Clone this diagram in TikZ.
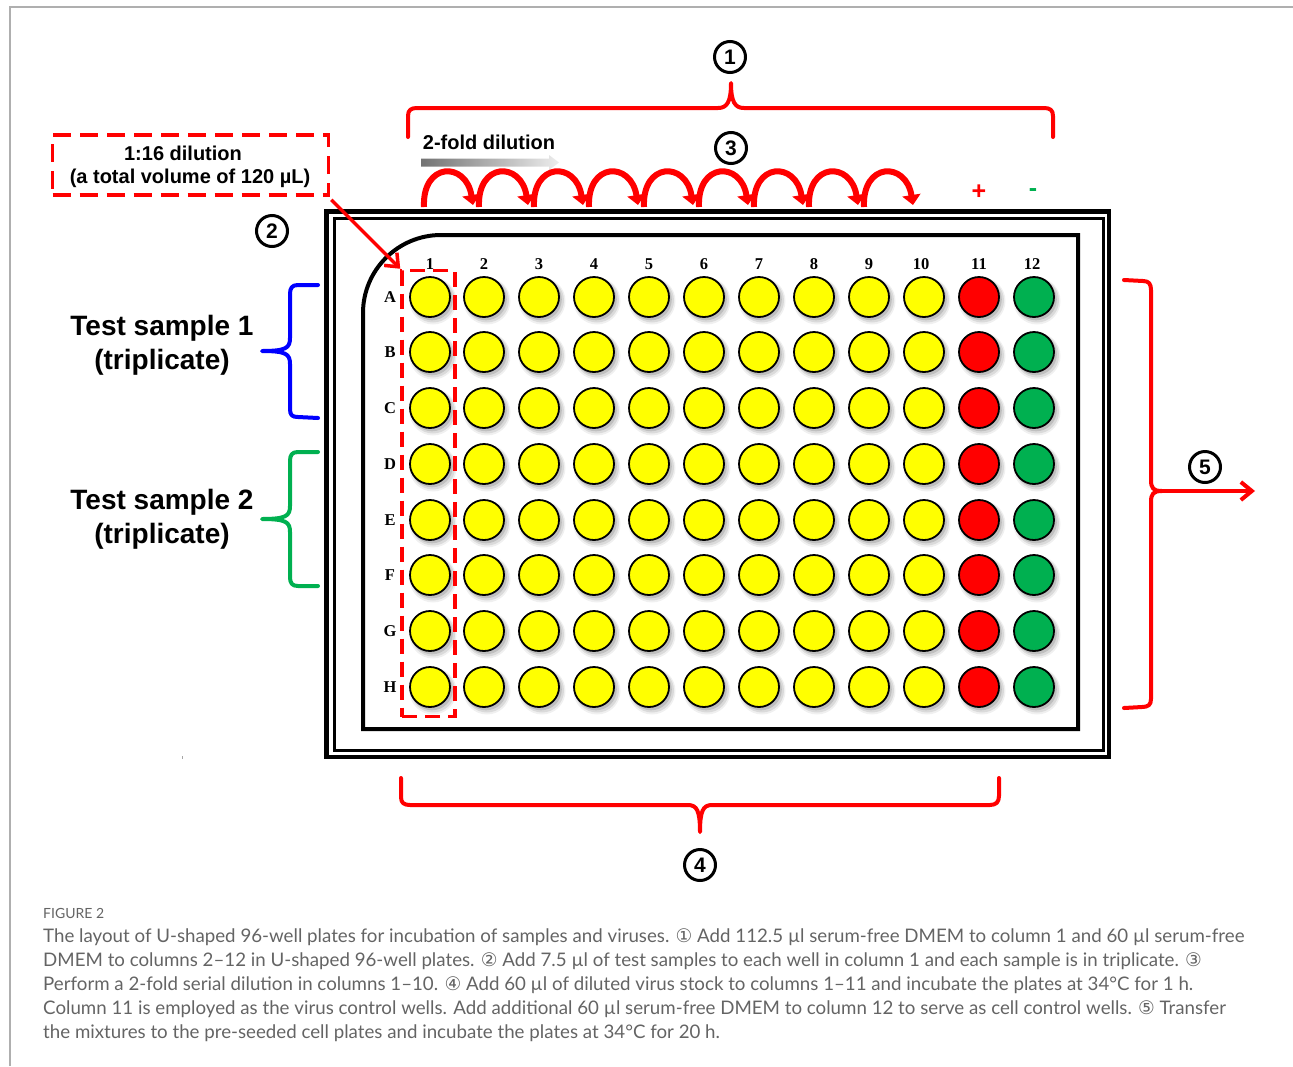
\documentclass[tikz,border=0pt]{standalone}
\usepackage{fontspec}
\setmainfont{Liberation Sans}
\newfontfamily\platefont{Liberation Serif}
\newfontfamily\capfont{Lato}
\newfontfamily\symfont{DejaVu Sans}
\usetikzlibrary{arrows.meta}
\definecolor{wellyellow}{RGB}{255,255,0}
\definecolor{wellred}{RGB}{255,0,0}
\definecolor{wellgreen}{RGB}{0,176,80}
\definecolor{braceblue}{RGB}{0,0,255}
\definecolor{bracegreen}{RGB}{0,176,80}
\definecolor{framegray}{RGB}{175,175,175}
\definecolor{captext}{RGB}{100,100,100}
\begin{document}
\begin{tikzpicture}[x=1pt,y=-1pt,
  well/.style={circle,draw=black,line width=1.8,minimum size=40,inner sep=0},
  brace/.style={line width=4,line cap=round,line join=round},
  stepnum/.style={circle,draw=black,line width=3,inner sep=0,minimum size=31,
    font=\bfseries\fontsize{21}{21}\selectfont},
  lbl/.style={font=\bfseries\fontsize{28}{30}\selectfont,inner sep=0},
  calltxt/.style={font=\bfseries\fontsize{20}{20}\selectfont,inner sep=0},
  plate/.style={font=\platefont\bfseries\fontsize{16.5}{16.5}\selectfont,inner sep=0},
  capline/.style={anchor=west,inner sep=0,text=captext,font=\capfont\fontsize{18.7}{18.7}\selectfont},
  dil/.style={draw=red,line width=6,-{Triangle[length=10pt,width=18pt]}},
  barb/.style={draw=red,line width=3.5,-{Straight Barb[length=11pt,width=18pt]}},
]
\useasboundingbox (0,0) rectangle (1293,1066);

% page frame
\draw[framegray,line width=1.5] (10,1066) -- (10,7) -- (1293,7);

% plate: double outer frame and inner well area
\draw[line width=4.5] (326.5,211.5) rectangle (1109,757);
\draw[line width=3] (334,218) rectangle (1103,750);
\draw[line width=4] (363,729) -- (363,313) .. controls (363,270) and (398,235) .. (441,235)
  -- (1078,235) -- (1078,729) -- cycle;

% column numbers
\foreach \x [count=\c] in {430,484,539,594,649,704,759,814,869,921,979,1032}
  \node[plate] (col\c) at (\x,264) {\c};

% rows of wells with soft shadows
\foreach \y/\rw in {297/A,352/B,408/C,464/D,520/E,575/F,631/G,687/H}{
  \node[plate] (row\rw) at (390,\y) {\rw};
  \foreach \x [count=\c] in {430,484,539,594,649,704,759,814,869,924,979,1034}{
    \fill[black,opacity=0.06] (\x+3,\y+4) circle (23.5);
    \fill[black,opacity=0.09] (\x+3,\y+3.5) circle (22);
    \fill[black,opacity=0.12] (\x+2,\y+2.5) circle (20.8);
  }
  \foreach \x [count=\c] in {430,484,539,594,649,704,759,814,869,924}
    \node[well,fill=wellyellow] (w\rw\c) at (\x,\y) {};
  \node[well,fill=wellred] (w\rw11) at (979,\y) {};
  \node[well,fill=wellgreen] (w\rw12) at (1034,\y) {};
}

% column 1 highlight and its callout
\node[draw=red,line width=3.5,dash pattern=on 15pt off 8pt,minimum width=53,
  minimum height=446,inner sep=0] (colbox) at (428.5,493.5) {};
\node[draw=red,line width=3.5,dash pattern=on 18pt off 9pt,minimum width=276,
  minimum height=60,inner sep=0] (callout) at (190.5,165) {};
\node[calltxt] (calltxtA) at (183,153) {1:16 dilution};
\node[calltxt] (calltxtB) at (190,178) {(a total volume of 120 µL)};
\draw[barb] ([shift={(1,3)}]callout.south east) -- (colbox.north west);
\node[stepnum] (stepB) at (272,231) {2};

% serial dilution
\node[calltxt] (foldtxt) at (489,142) {2-fold dilution};
\shade[left color=black!55,right color=black!7] (421,158.5) -- (549,158.5) -- (549,155)
  -- (559,162.5) -- (549,170) -- (549,166.5) -- (421,166.5) -- cycle;
\foreach \i in {0,...,8}
  \draw[dil] ({424+55*\i},207) .. controls ({422+55*\i},162) and ({466+55*\i},161) .. ({473+55*\i},205);
\node[stepnum] (stepC) at (731,148) {3};
\node[text=red,font=\bfseries\fontsize{25}{25}\selectfont,inner sep=0] (plus) at (979,192) {+};
\node[text=wellgreen,font=\bfseries\fontsize{25}{25}\selectfont,inner sep=0] (minus) at (1033,193) {-};

% step 1: brace over all columns
\draw[red,brace] (408,137) -- (408,116) .. controls (408,110) and (411,108) .. (417,108)
  -- (718,108) .. controls (727,108) and (731,102) .. (731,83)
  .. controls (731,102) and (735,108) .. (744,108) -- (1044,108)
  .. controls (1050,108) and (1053,110) .. (1053,116) -- (1053,137);
\node[stepnum] (stepA) at (730,57) {1};

% sample groups
\draw[braceblue,brace] (318,285) -- (298,285) .. controls (292,285) and (290,288) .. (290,294)
  -- (290,338) .. controls (290,348) and (286,351) .. (262,351)
  .. controls (286,351) and (290,354) .. (290,364) -- (290,409)
  .. controls (290,415) and (292,417) .. (298,417) -- (318,418);
\draw[bracegreen,brace] (318,452) -- (298,452) .. controls (292,452) and (290,455) .. (290,461)
  -- (290,506) .. controls (290,516) and (286,519) .. (262,519)
  .. controls (286,519) and (290,522) .. (290,532) -- (290,577)
  .. controls (290,583) and (292,586) .. (298,586) -- (318,586);
\node[lbl] (s1a) at (162,328) {Test sample 1};
\node[lbl] (s1b) at (162,362) {(triplicate)};
\node[lbl] (s2a) at (162,502) {Test sample 2};
\node[lbl] (s2b) at (162,536) {(triplicate)};

% step 4: brace under columns 1-11
\draw[red,brace] (401,778) -- (401,797) .. controls (401,803) and (404,805) .. (410,805)
  -- (688,805) .. controls (697,805) and (700,811) .. (700,832)
  .. controls (700,811) and (703,805) .. (712,805) -- (990,805)
  .. controls (996,805) and (999,802) .. (999,796) -- (999,778);
\node[stepnum] (stepD) at (700,865) {4};

% step 5: transfer of all rows
\draw[red,brace] (1124,280) -- (1143,281) .. controls (1149,281) and (1151,284) .. (1151,290)
  -- (1151,480) .. controls (1151,488) and (1153,491) .. (1162,491)
  .. controls (1153,491) and (1151,494) .. (1151,502) -- (1151,699)
  .. controls (1151,705) and (1148,707) .. (1142,707) -- (1124,708);
\coordinate (tipE) at (1162,491);
\coordinate (endE) at (1255,491);
\draw[barb,line width=4] (tipE) -- (endE);
\node[stepnum] (stepE) at (1205,467) {5};

\draw[black!35,line width=1] (182,756) -- (182,759);

% caption
\node[capline,font=\capfont\fontsize{14}{14}\selectfont] (figlabel) at (43,913) {FIGURE 2};
\node[capline] (capA) at (43,937) {The layout of U-shaped 96-well plates for incubation of samples and viruses. {\symfont ①} Add 112.5 µl serum-free DMEM to column 1 and 60 µl serum-free};
\node[capline] (capB) at (43,961) {DMEM to columns 2–12 in U-shaped 96-well plates. {\symfont ②} Add 7.5 µl of test samples to each well in column 1 and each sample is in triplicate. {\symfont ③}};
\node[capline] (capC) at (43,985) {Perform a 2-fold serial dilution in columns 1–10. {\symfont ④} Add 60 µl of diluted virus stock to columns 1–11 and incubate the plates at 34°C for 1 h.};
\node[capline] (capD) at (43,1009) {Column 11 is employed as the virus control wells. Add additional 60 µl serum-free DMEM to column 12 to serve as cell control wells. {\symfont ⑤} Transfer};
\node[capline] (capE) at (43,1033) {the mixtures to the pre-seeded cell plates and incubate the plates at 34°C for 20 h.};
\end{tikzpicture}
\end{document}
